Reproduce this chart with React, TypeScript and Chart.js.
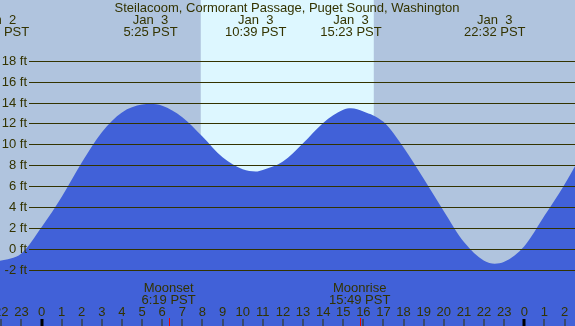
import React, { useEffect, useRef } from "react";
import { Chart, registerables } from "chart.js";

Chart.register(...registerables);

const TITLE = "Steilacoom, Cormorant Passage, Puget Sound, Washington";

// Tide curve: hours relative to Jan 3 00:00, height in ft
const tideHours = [
  -2.14, -1, 0, 1, 2, 3, 4, 5, 5.417, 6, 7, 8, 9, 10, 10.65, 11, 12, 13, 14, 15,
  15.383, 16, 17, 18, 19, 20, 21, 22, 22.533, 23, 24, 25, 26, 27,
];
const tideFeet = [
  -1.15, -0.4, 2.1, 5.0, 8.3, 11.2, 13.1, 13.85, 13.9, 13.75, 12.65, 10.8, 8.8,
  7.65, 7.45, 7.6, 8.4, 10.15, 12.1, 13.35, 13.5, 13.2, 12.2, 9.75, 6.75,
  3.65, 0.7, -1.1, -1.38, -1.2, 0.3, 3.2, 6.2, 9.6,
];

// High / low tide labels
const eventHours = [-2.14, 5.417, 10.65, 15.383, 22.533];
const eventDays = ["Jan  2", "Jan  3", "Jan  3", "Jan  3", "Jan  3"];
const eventTimes = ["21:52 PST", "5:25 PST", "10:39 PST", "15:23 PST", "22:32 PST"];

// Moon events
const moonHours = [6.317, 15.817];
const moonNames = ["Moonset", "Moonrise"];
const moonTimes = ["6:19 PST", "15:49 PST"];

// Daylight
const sunriseHour = 7.917;
const sunsetHour = 16.517;

const yTicks = [-2, 0, 2, 4, 6, 8, 10, 12, 14, 16, 18];
const hourTicks = [
  -2, -1, 0, 1, 2, 3, 4, 5, 6, 7, 8, 9, 10, 11, 12, 13, 14, 15, 16, 17, 18, 19,
  20, 21, 22, 23, 24, 25, 26,
];

const X_MIN = -2.063;
const X_MAX = 26.52;
const Y_MIN = -7.34;
const Y_MAX = 23.86;

const NIGHT = "#b0c4de";
const DAY = "#ddf7ff";
const WATER = "#4161d8";
const INK = "#333300";
const FONT = '13px "Liberation Sans", Arial, sans-serif';

const decorPlugin = {
  id: "tideDecor",
  beforeDraw(chart: any) {
    const { ctx } = chart;
    const x = chart.scales.x;
    ctx.save();
    ctx.fillStyle = NIGHT;
    ctx.fillRect(0, 0, chart.width, chart.height);
    const x1 = x.getPixelForValue(sunriseHour);
    const x2 = x.getPixelForValue(sunsetHour);
    ctx.fillStyle = DAY;
    ctx.fillRect(x1, 0, x2 - x1, chart.height);
    ctx.restore();
  },
  afterDatasetsDraw(chart: any) {
    const { ctx } = chart;
    const x = chart.scales.x;
    const y = chart.scales.y;
    const W = chart.width;
    const H = chart.height;
    ctx.save();
    ctx.font = FONT;
    ctx.textBaseline = "middle";

    // horizontal grid + labels
    ctx.strokeStyle = INK;
    ctx.lineWidth = 1;
    ctx.fillStyle = INK;
    ctx.textAlign = "right";
    for (const v of yTicks) {
      const py = Math.floor(y.getPixelForValue(v)) + 0.5;
      ctx.beginPath();
      ctx.moveTo(29, py);
      ctx.lineTo(W, py);
      ctx.stroke();
      ctx.fillText(`${v} ft`, 27, py);
    }

    // title and tide event labels
    ctx.textAlign = "center";
    ctx.fillText(TITLE, 287, 8);
    eventHours.forEach((h, i) => {
      const px = x.getPixelForValue(h);
      ctx.fillText(eventDays[i], px, 20);
      ctx.fillText(eventTimes[i], px, 32);
    });

    // moon labels
    moonHours.forEach((h, i) => {
      const px = x.getPixelForValue(h);
      ctx.fillText(moonNames[i], px, 288);
      ctx.fillText(moonTimes[i], px, 300);
    });

    // hour labels and tick marks
    for (const h of hourTicks) {
      const px = x.getPixelForValue(h);
      const lab = ((h % 24) + 24) % 24;
      ctx.fillStyle = INK;
      ctx.fillText(String(lab), px, 312);
      if (lab === 0) {
        ctx.fillStyle = "#000000";
        ctx.fillRect(Math.round(px) - 1.5, 319, 3, H - 319);
      } else {
        ctx.fillStyle = INK;
        ctx.fillRect(Math.round(px) - 0.5, 319, 1, H - 319);
      }
    }
    ctx.fillStyle = "#ee0000";
    for (const h of moonHours) {
      const px = x.getPixelForValue(h);
      ctx.fillRect(Math.round(px), 318, 1, H - 318);
    }
    ctx.restore();
  },
};

export default function App() {
  const ref = useRef<HTMLCanvasElement | null>(null);
  useEffect(() => {
    document.body.style.margin = "0";
    if (!ref.current) return;
    const data = tideHours.map((h, i) => ({ x: h, y: tideFeet[i] }));
    const chart = new Chart(ref.current, {
      type: "line",
      data: {
        datasets: [
          {
            data,
            borderWidth: 0,
            borderColor: WATER,
            backgroundColor: WATER,
            fill: "start",
            pointRadius: 0,
            cubicInterpolationMode: "monotone",
          },
        ],
      },
      options: {
        responsive: false,
        animation: false,
        devicePixelRatio: 1,
        layout: { padding: 0 },
        plugins: {
          legend: { display: false },
          tooltip: { enabled: false },
          title: { display: false },
        },
        scales: {
          x: { type: "linear", min: X_MIN, max: X_MAX, display: false },
          y: { type: "linear", min: Y_MIN, max: Y_MAX, display: false },
        },
      },
      plugins: [decorPlugin],
    });
    return () => chart.destroy();
  }, []);
  return (
    <div style={{ position: "fixed", left: 0, top: 0, width: 575, height: 326 }}>
      <canvas ref={ref} width={575} height={326} style={{ width: 575, height: 326 }} />
    </div>
  );
}
